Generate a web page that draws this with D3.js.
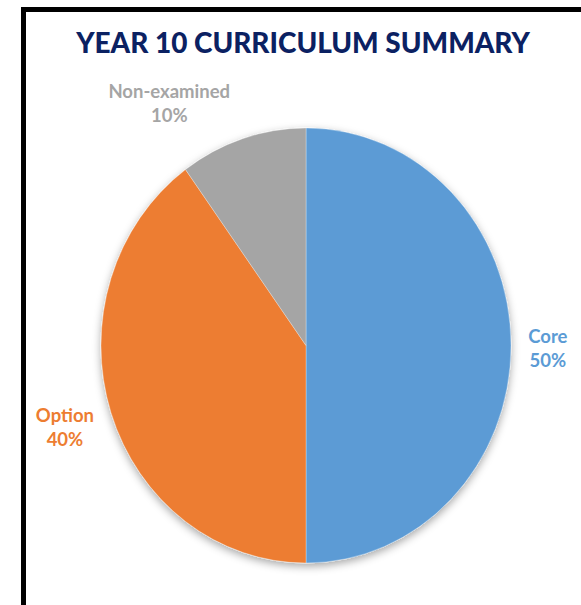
<!DOCTYPE html>
<html>
<head>
<meta charset="utf-8">
<script src="https://cdn.jsdelivr.net/npm/d3@7"></script>
<style>
  html, body { margin: 0; padding: 0; background: #fff; }
  svg { display: block; }
</style>
</head>
<body>
<svg id="chart" width="581" height="605"></svg>
<script>
// ---- data ----
const title = "YEAR 10 CURRICULUM SUMMARY";
const categories = ["Core", "Option", "Non-examined"];
const values = [50, 40, 10];
const colors = ["#5B9BD5", "#ED7D31", "#A5A5A5"];

// ---- layout ----
const W = 581, H = 605;
const cx = 306, cy = 345.5;
const rx = 205, ry = 217.5;
const labelK = 1.18;
const labelNudge = { "Core": 0, "Option": -11, "Non-examined": -62 };

const svg = d3.select("#chart");

// drop shadow filter
const defs = svg.append("defs");
const f = defs.append("filter").attr("id", "shadow")
  .attr("x", "-20%").attr("y", "-20%").attr("width", "140%").attr("height", "140%");
f.append("feDropShadow").attr("dx", 0).attr("dy", 3).attr("stdDeviation", 4)
  .attr("flood-color", "#000").attr("flood-opacity", 0.35);

// border (top and left visible)
svg.append("rect")
  .attr("x", 23.5).attr("y", 9.5)
  .attr("width", W + 40).attr("height", H + 40)
  .attr("fill", "none").attr("stroke", "#000").attr("stroke-width", 5);

// title
const t = svg.append("text")
  .attr("x", 303).attr("y", 53)
  .attr("text-anchor", "middle")
  .attr("font-family", "Lato, 'Open Sans', sans-serif")
  .attr("font-weight", 900)
  .attr("font-size", 27)
  .attr("fill", "#0B2162")
  .text(title);
// fit title width to reference
const targetW = 454;
const tw = t.node().getComputedTextLength();
t.attr("font-size", 27 * targetW / tw);

// pie
const pie = d3.pie().sort(null).value(d => d.value);
const data = categories.map((c, i) => ({ cat: c, value: values[i], color: colors[i] }));
const arcs = pie(data);
const arc = d3.arc().innerRadius(0).outerRadius(rx);

const g = svg.append("g")
  .attr("transform", `translate(${cx},${cy}) scale(1,${ry / rx})`);

g.append("g").attr("filter", "url(#shadow)")
  .selectAll("path")
  .data(arcs)
  .join("path")
  .attr("d", arc)
  .attr("fill", d => d.data.color)
  .attr("stroke", "#fff")
  .attr("stroke-width", 0.6)
  .attr("stroke-opacity", 0.5);

// labels
const total = d3.sum(values);
const lab = svg.append("g")
  .attr("font-family", "Lato, 'Open Sans', sans-serif")
  .attr("font-weight", 700)
  .attr("font-size", 18.5)
  .attr("text-anchor", "middle");

arcs.forEach(a => {
  const mid = (a.startAngle + a.endAngle) / 2;
  const px = cx + Math.sin(mid) * rx * labelK + labelNudge[a.data.cat];
  const py = cy - Math.cos(mid) * ry * labelK;
  const txt = lab.append("text").attr("fill", a.data.color);
  txt.append("tspan").attr("x", px).attr("y", py - 3).text(a.data.cat);
  txt.append("tspan").attr("x", px).attr("y", py + 21)
    .text(Math.round(a.data.value / total * 100) + "%");
});
</script>
</body>
</html>
